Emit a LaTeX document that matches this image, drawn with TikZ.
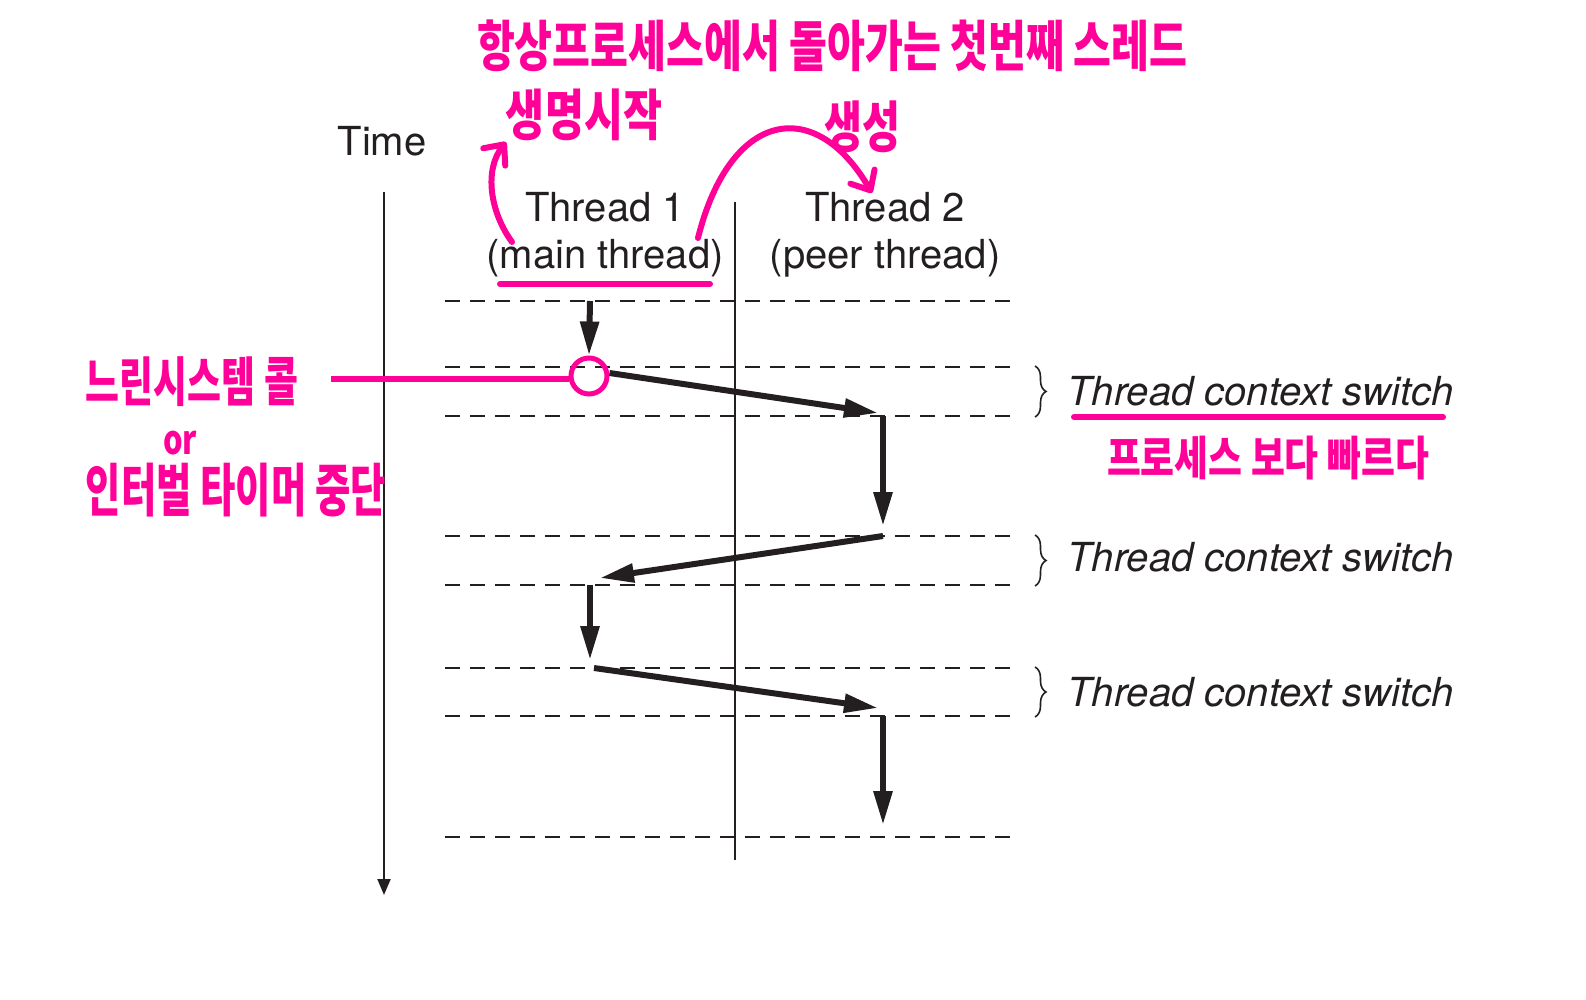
\documentclass[tikz,border=0pt]{standalone}
\usepackage{fontspec}
\usepackage{graphicx}
\setmainfont{TeX Gyre Heros}
\newfontfamily\kr{Noto Sans CJK KR}
\usetikzlibrary{arrows.meta,decorations.pathreplacing}
\definecolor{pk}{RGB}{255,0,153}
\definecolor{ink}{RGB}{35,31,32}
\newcommand\hw[3]{\resizebox*{#1}{#2}{\kr\bfseries #3}}
\begin{document}
\begin{tikzpicture}[x=0.5pt,y=-0.5pt,
  lbl/.style={inner sep=0pt,text=ink,font=\fontsize{20}{23.5}\selectfont},
  tcs/.style={inner sep=0pt,anchor=west,text=ink,font=\fontsize{20}{24}\selectfont\itshape},
  dashline/.style={draw=ink,line width=1.4pt,dash pattern=on 7.5pt off 5pt},
  flow/.style={draw=ink,line width=3pt,-{Triangle[length=17pt,width=9pt]}},
  brc/.style={draw=ink,line width=0.8pt,decorate,decoration={brace,amplitude=5.5pt}},
  pkl/.style={draw=pk,line width=3pt,line cap=round},
  pka/.style={draw=pk,line width=3pt,line cap=round,-{Straight Barb[length=8pt,width=14pt,round]}},
  note/.style={inner sep=0pt,text=pk}]
\useasboundingbox (0,0) rectangle (1586,1000);

% axes
\coordinate (t0) at (384,192);
\coordinate (t1) at (384,895);
\draw[draw=ink,line width=1pt,-{Triangle[length=8pt,width=6.5pt]}] (t0) -- (t1);
\coordinate (s0) at (735,202);
\coordinate (s1) at (735,860);
\draw[draw=ink,line width=1pt] (s0) -- (s1);

% labels
\node[lbl] (time) at (382,141) {Time};
\node[lbl,align=center] (th1) at (605,235) {Thread 1\\(main thread)};
\node[lbl,align=center] (th2) at (885,235) {Thread 2\\(peer thread)};

% dashed lines
\foreach \n/\y in {d1/301,d2/367,d3/416,d4/536,d5/585,d6/668,d7/716,d8/837}{
  \coordinate (\n a) at (445,\y);
  \coordinate (\n b) at (1012,\y);
  \draw[dashline] (\n a) -- (\n b);
}

% braces and labels
\foreach \n/\ya/\yb in {b1/366/417,b2/535/586,b3/667/717}{
  \coordinate (\n a) at (1035,\ya);
  \coordinate (\n b) at (1035,\yb);
  \draw[brc] (\n a) -- (\n b);
}
\node[tcs] (c1) at (1067,391) {Thread context switch};
\node[tcs] (c2) at (1067,557) {Thread context switch};
\node[tcs] (c3) at (1067,692) {Thread context switch};

% flow arrows
\node[draw=pk,line width=2.5pt,circle,minimum size=18pt,inner sep=0pt] (circ) at (589,376) {};
\coordinate (p0) at (590,301);
\coordinate (p1) at (878,413);
\coordinate (p2) at (883,416);
\coordinate (p3) at (883,526);
\coordinate (p4) at (883,536);
\coordinate (p5) at (600,578);
\coordinate (p6) at (590,585);
\coordinate (p7) at (590,660);
\coordinate (p8) at (594,668);
\coordinate (p9) at (878,708);
\coordinate (p10) at (883,716);
\coordinate (p11) at (883,825);
\draw[flow] (p0) -- (circ.north);
\draw[flow] (circ.east) ++(0,-3) -- (p1);
\draw[flow] (p2) -- (p3);
\draw[flow] (p4) -- (p5);
\draw[flow] (p6) -- (p7);
\draw[flow] (p8) -- (p9);
\draw[flow] (p10) -- (p11);

% pink annotations
\coordinate (u1a) at (500,284);
\coordinate (u1b) at (710,284);
\draw[pkl] (u1a) -- (u1b);
\coordinate (u2a) at (1074,417);
\coordinate (u2b) at (1443,417);
\draw[pkl] (u2a) -- (u2b);
\coordinate (hl) at (331,379);
\draw[pkl,line cap=butt] (hl) -- (circ.west |- hl);

\coordinate (ca0) at (512,242);
\coordinate (ca1) at (506,142);
\draw[pka] (ca0) .. controls (490,212) and (484,170) .. (ca1);
\coordinate (ba0) at (698,238);
\coordinate (ba1) at (872,193);
\draw[pka] (ba0) .. controls (730,110) and (815,95) .. (ba1);

\node[note] (n1) at (832,46) {\hw{355pt}{26pt}{항상프로세스에서 돌아가는 첫번째 스레드}};
\node[note] (n2) at (584,115) {\hw{78pt}{26pt}{생명시작}};
\node[note] (n3) at (862,127) {\hw{38pt}{26pt}{생성}};
\node[note] (n4) at (192,382) {\hw{106pt}{25pt}{느린시스템 콜}};
\node[note] (n5) at (180,443) {\hw{17pt}{12pt}{or}};
\node[note] (n6) at (236,490) {\hw{150pt}{27pt}{인터벌 타이머 중단}};
\node[note] (n7) at (1268,458) {\hw{161pt}{22pt}{프로세스 보다 빠르다}};
\end{tikzpicture}
\end{document}
